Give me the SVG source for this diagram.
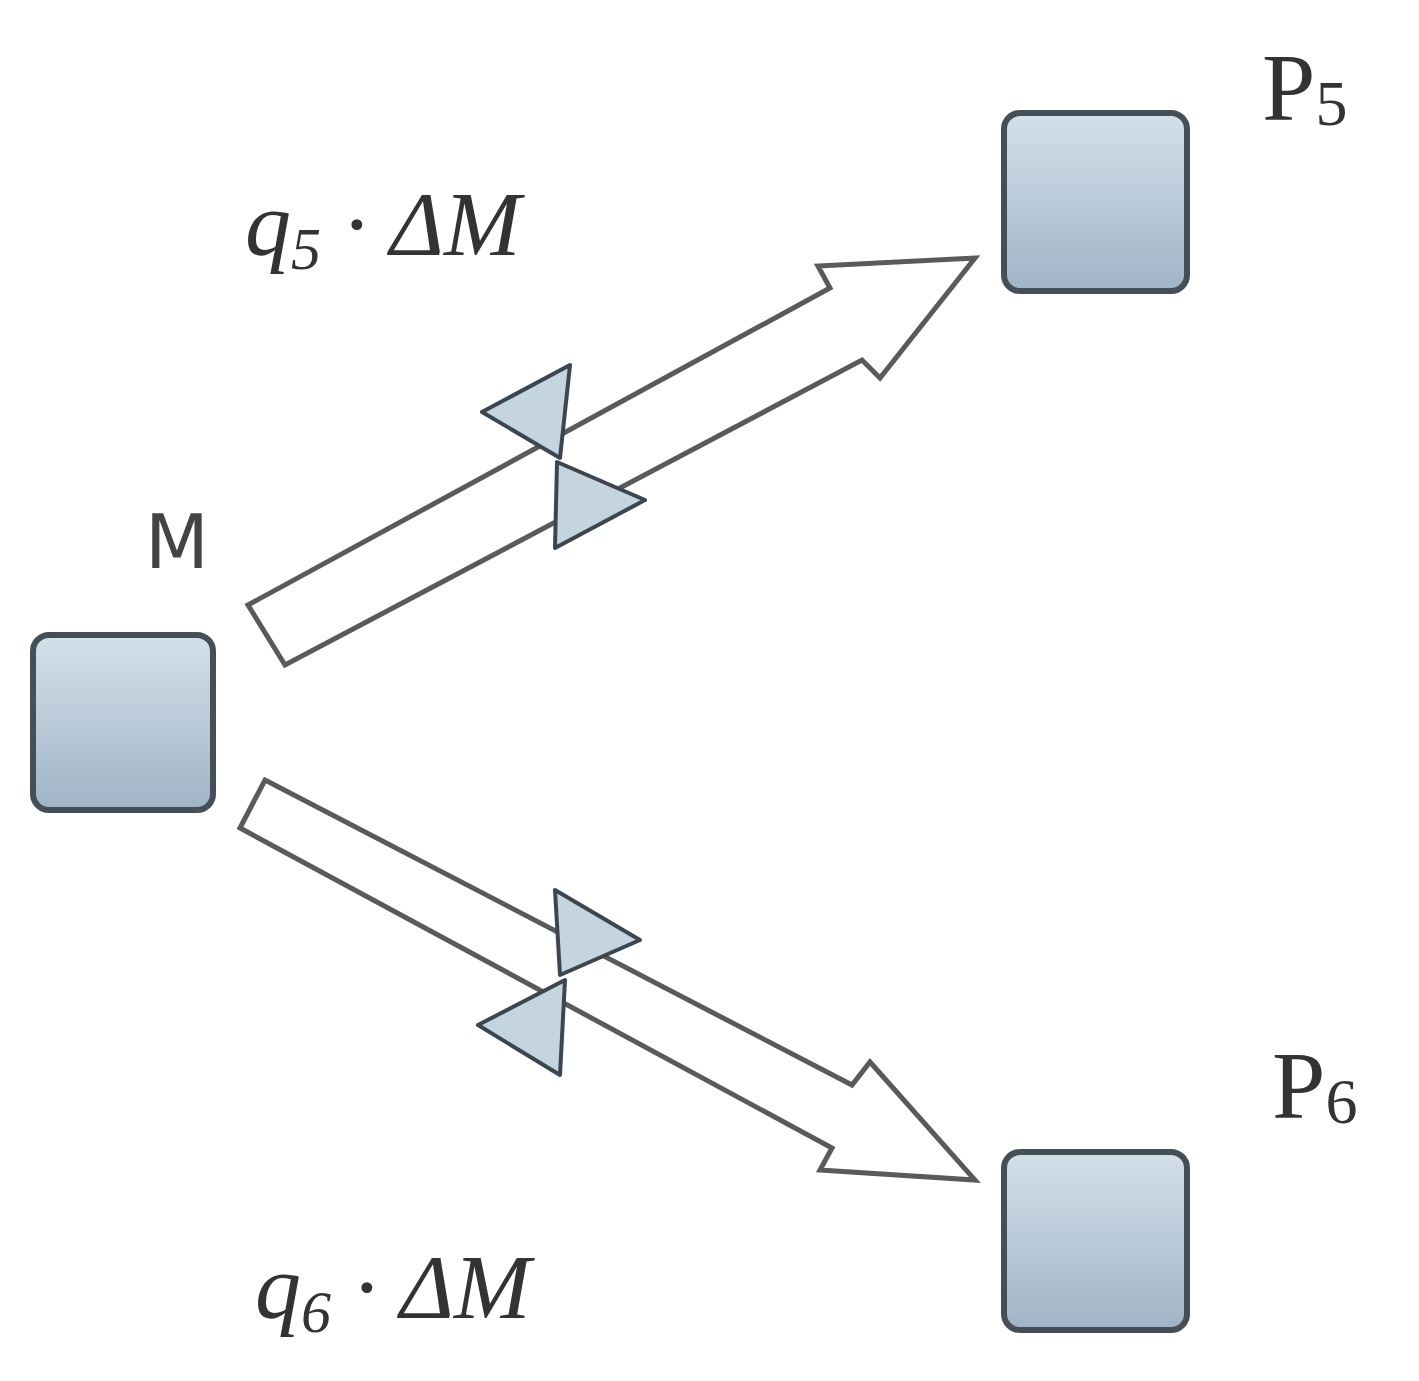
<svg xmlns="http://www.w3.org/2000/svg" width="1419" height="1381" viewBox="0 0 1419 1381">
<defs>
<linearGradient id="g" x1="0" y1="0" x2="0" y2="1"><stop offset="0" stop-color="#d4e0ea"/><stop offset="1" stop-color="#9fb4c6"/></linearGradient>
<style>
.box{fill:url(#g);stroke:#454f58;stroke-width:6}
.arr{fill:#fff;stroke:#5a5a5a;stroke-width:5;stroke-linejoin:miter}
.valve{fill:#c5d5e0;stroke:#3c4650;stroke-width:4;stroke-linejoin:round}
.lbl{font-family:"Liberation Serif",serif;fill:#333}
.m{font-family:"DejaVu Sans","Liberation Sans",sans-serif;fill:#444}
</style>
</defs>
<rect width="1419" height="1381" fill="#fff"/>
<g id="nodeM"><rect class="box" x="33" y="635" width="180" height="175" rx="16"/><text class="m" x="145" y="568" font-size="74">M</text></g>
<g id="nodeP5"><rect class="box" x="1004" y="113" width="183" height="178" rx="16"/><text class="lbl" x="1262" y="120" font-size="96">P<tspan font-size="64" dy="5">5</tspan></text></g>
<g id="nodeP6"><rect class="box" x="1004" y="1152" width="183" height="178" rx="16"/><text class="lbl" x="1272" y="1118" font-size="96">P<tspan font-size="64" dy="5">6</tspan></text></g>
<g id="connectors">
<polygon class="arr" points="248,605 830,288 818,266 975,258 880,378 862,360 285,665"/>
<polygon class="valve" points="482,412 570,365 560,458"/>
<polygon class="valve" points="557,462 555,548 645,500"/>
<polygon class="arr" points="265,780 852,1085 870,1062 975,1180 820,1170 832,1148 240,828"/>
<polygon class="valve" points="555,890 560,975 640,940"/>
<polygon class="valve" points="478,1025 565,980 560,1075"/>
</g>
<text class="lbl" x="245" y="255" font-size="92" font-style="italic">q<tspan font-size="60" dy="14">5</tspan><tspan dy="-14"> · ΔM</tspan></text>
<text class="lbl" x="255" y="1318" font-size="92" font-style="italic">q<tspan font-size="60" dy="14">6</tspan><tspan dy="-14"> · ΔM</tspan></text>
</svg>
